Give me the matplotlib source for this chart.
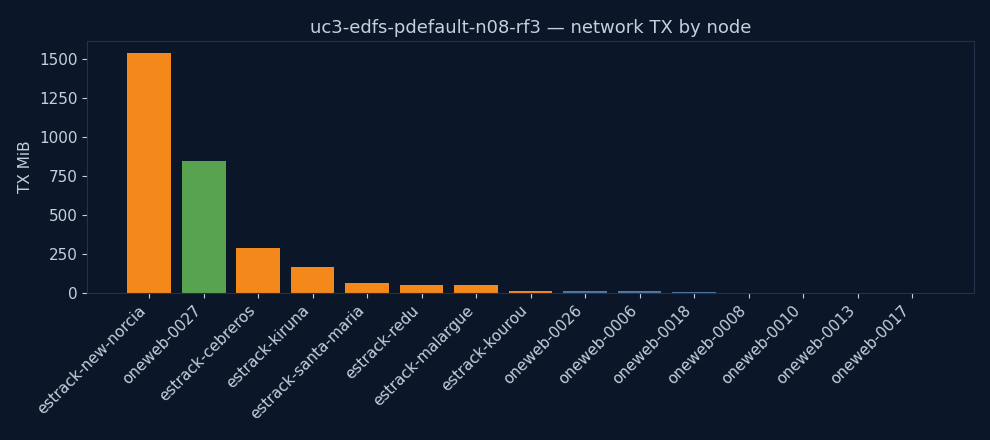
import matplotlib
matplotlib.use("Agg")
import matplotlib.pyplot as plt

# node names and TX volume (MiB)
nodes = ['estrack-new-norcia', 'oneweb-0027', 'estrack-cebreros', 'estrack-kiruna',
         'estrack-santa-maria', 'estrack-redu', 'estrack-malargue', 'estrack-kourou',
         'oneweb-0026', 'oneweb-0006', 'oneweb-0018', 'oneweb-0008',
         'oneweb-0010', 'oneweb-0013', 'oneweb-0017']
tx_mib = [1538, 846, 288, 167, 64, 51, 51, 13, 12, 12, 5, 0, 0, 0, 0]
roles = ['ground', 'leader', 'ground', 'ground', 'ground', 'ground', 'ground', 'ground',
         'sat', 'sat', 'sat', 'sat', 'sat', 'sat', 'sat']

role_colors = {'ground': '#f5881a', 'leader': '#57a34f', 'sat': '#4e79a7'}
bg = '#0b1628'
fg = '#c5d0de'
edge = '#22324a'

fig = plt.figure(figsize=(9.9, 4.4), dpi=100, facecolor=bg)
ax = fig.add_axes([0.088, 0.334, 0.896, 0.573], facecolor=bg)

ax.bar(range(len(nodes)), tx_mib, width=0.8, color=[role_colors[r] for r in roles])

ax.set_xticks(range(len(nodes)))
ax.set_xticklabels(nodes, rotation=45, ha='right')
ax.set_yticks([0, 250, 500, 750, 1000, 1250, 1500])
ax.set_ylim(0, 1615)
ax.set_ylabel('TX MiB', color=fg, fontsize=11)
ax.set_title('uc3-edfs-pdefault-n08-rf3 \u2014 network TX by node', color=fg, fontsize=13, pad=6)

ax.tick_params(colors=fg, labelsize=11)
for s in ax.spines.values():
    s.set_color(edge)

fig.savefig('out.png', dpi=100, facecolor=bg)
